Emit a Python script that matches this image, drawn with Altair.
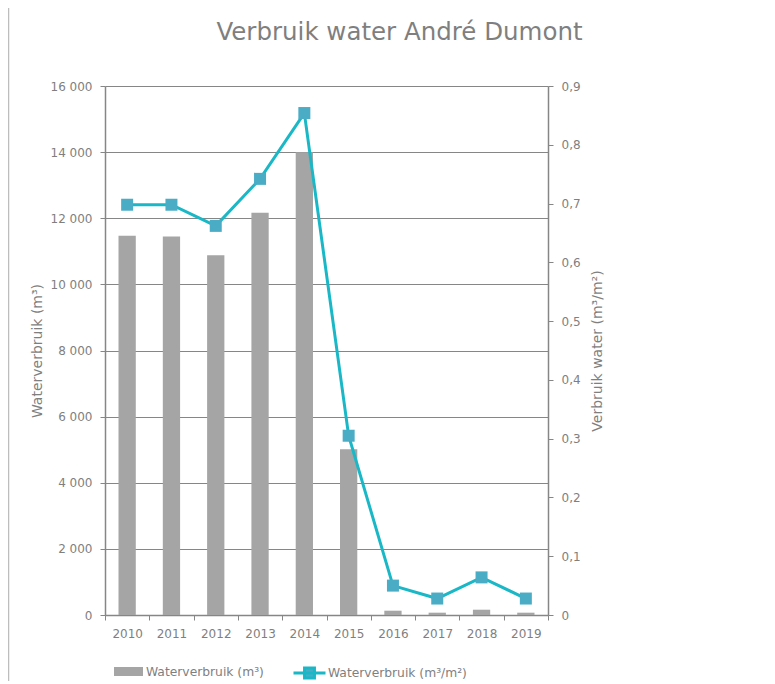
import altair as alt
import pandas as pd

# ---- data ----
years = ["2010", "2011", "2012", "2013", "2014", "2015", "2016", "2017", "2018", "2019"]
verbruik_m3 = [11470, 11450, 10880, 12170, 14000, 5010, 130, 70, 160, 70]
verbruik_m3_per_m2 = [0.698, 0.698, 0.662, 0.742, 0.854, 0.305, 0.050, 0.028, 0.064, 0.028]
left_ticks = [0, 2000, 4000, 6000, 8000, 10000, 12000, 14000, 16000]
right_ticks = [0, 0.1, 0.2, 0.3, 0.4, 0.5, 0.6, 0.7, 0.8, 0.9]
bar_label = "Waterverbruik (m³)"
line_label = "Waterverbruik (m³/m²)"
title_text = "Verbruik water André Dumont"
left_title = "Waterverbruik (m³)"
right_title = "Verbruik water (m³/m²)"

df = pd.DataFrame({
    "jaar": years,
    "m3": verbruik_m3,
    "m3m2": verbruik_m3_per_m2,
    "s1": [bar_label] * len(years),
    "s2": [line_label] * len(years),
})

GREY_TXT = "#7f7f7f"
AXIS_COL = "#868686"
FONT = "DejaVu Sans"

x_enc = alt.X(
    "jaar:N",
    title=None,
    scale=alt.Scale(paddingInner=0, paddingOuter=0),
    axis=alt.Axis(tickBand="extent", labelAngle=0, labelPadding=8, tickSize=5,
                  domainColor=AXIS_COL, tickColor=AXIS_COL, domainWidth=1.5, grid=False),
)

base = alt.Chart(df)

bars = base.mark_bar(width=alt.RelativeBandSize(0.39)).encode(
    x=x_enc,
    y=alt.Y("m3:Q",
            scale=alt.Scale(domain=[0, 16000], nice=False),
            axis=alt.Axis(values=left_ticks, title=left_title, grid=True, gridColor=AXIS_COL,
                          gridWidth=1, tickSize=5, labelPadding=8, domainColor=AXIS_COL,
                          tickColor=AXIS_COL, domainWidth=1.5, titleX=-68, titleBaseline="middle",
                          labelExpr="replace(format(datum.value, ','), ',', ' ')")),
    color=alt.Color("s1:N",
                    scale=alt.Scale(domain=[bar_label], range=["#a5a5a5"]),
                    legend=alt.Legend(orient="none", legendX=9, legendY=571, title=None,
                                      padding=0, symbolType="M-1,-0.31H1V0.31H-1Z",
                                      symbolSize=841, symbolStrokeWidth=0, labelOffset=3,
                                      labelFontSize=12.3, labelColor=GREY_TXT, labelFont=FONT)),
)

right_axis = alt.Axis(values=right_ticks, title=right_title, orient="right", grid=False,
                      tickSize=5, labelPadding=8, domainColor=AXIS_COL, tickColor=AXIS_COL,
                      domainWidth=1.5, titleAngle=270, titleX=49, titleBaseline="middle",
                      labelExpr="datum.value == 0 ? '0' : replace(format(datum.value, '.1f'), '.', ',')")
right_scale = alt.Scale(domain=[0, 0.9], nice=False)

line = base.mark_line(strokeWidth=3).encode(
    x=x_enc,
    y=alt.Y("m3m2:Q", scale=right_scale, axis=right_axis),
    stroke=alt.Stroke("s2:N",
                      scale=alt.Scale(domain=[line_label], range=["#1ab8c6"]),
                      legend=alt.Legend(orient="none", legendX=187, legendY=569.5, title=None,
                                        padding=0,
                                        symbolType="M-1,0H1M-0.31,-0.31H0.31V0.31H-0.31Z",
                                        symbolSize=1024, symbolStrokeWidth=3,
                                        symbolFillColor="#4bacc6", labelOffset=1,
                                        labelFontSize=12.3, labelColor=GREY_TXT, labelFont=FONT)),
)

points = base.mark_point(shape="square", filled=True, size=144, color="#4bacc6", opacity=1).encode(
    x=x_enc,
    y=alt.Y("m3m2:Q", scale=right_scale, axis=right_axis),
)

frame_line = alt.Chart(pd.DataFrame({"k": [0]})).mark_rule(color="#bdbdbd", strokeWidth=1.5).encode(
    x=alt.value(-96.5), y=alt.value(-86), y2=alt.value(605)
)

chart = alt.layer(
    frame_line, bars, alt.layer(line, points)
).resolve_scale(
    y="independent", color="independent", stroke="independent"
).properties(
    width=443,
    height=529,
    padding={"left": 97, "top": 78, "right": 200, "bottom": 66},
    autosize=alt.AutoSizeParams(type="none"),
    title=alt.TitleParams(title_text, fontSize=24.5, font=FONT, fontWeight="normal",
                          color=GREY_TXT, anchor="middle", dx=73, offset=-65,
                          baseline="alphabetic"),
).configure_view(
    stroke=None
).configure_axis(
    labelFont=FONT, labelFontSize=12, labelColor=GREY_TXT,
    titleFont=FONT, titleFontSize=14, titleFontWeight="normal", titleColor=GREY_TXT,
)

chart.save("out.html", embed_options={"renderer": "svg", "actions": False})
